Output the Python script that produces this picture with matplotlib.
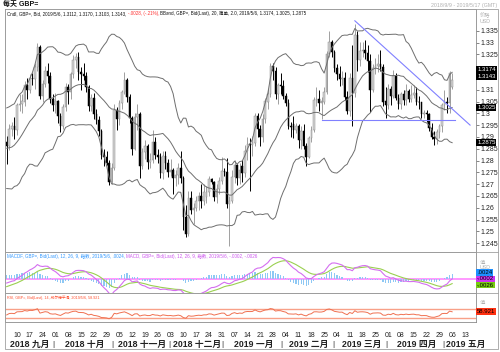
import numpy as np
import pandas as pd
import matplotlib
matplotlib.use('Agg')
import matplotlib.pyplot as plt
from matplotlib.lines import Line2D
from matplotlib.patches import Rectangle
from matplotlib.transforms import blended_transform_factory

plt.rcParams['font.family'] = ['Liberation Sans', 'Noto Sans CJK SC', 'DejaVu Sans']

# ---------------- data (daily GBP=, from 2018-09-04) ----------------
start_date = '2018-09-04'
opens = [1.2880, 1.2860, 1.2935, 1.2945, 1.2930, 1.3035, 1.3040, 1.3050, 1.3120, 1.3100,
         1.3150, 1.3145, 1.3195, 1.3280, 1.3075, 1.3125, 1.3180, 1.3160, 1.3060, 1.3035,
         1.3050, 1.2990, 1.2945, 1.3025, 1.3110, 1.3090, 1.3165, 1.3225, 1.3240, 1.3175,
         1.3165, 1.3160, 1.3110, 1.3030, 1.3065, 1.2995, 1.2970, 1.2925, 1.2825, 1.2815,
         1.2790, 1.2710, 1.2770, 1.3015, 1.2975, 1.3045, 1.3090, 1.3140, 1.3070, 1.2980,
         1.2850, 1.2985, 1.2995, 1.2775, 1.2835, 1.2860, 1.2795, 1.2800, 1.2880, 1.2825,
         1.2815, 1.2745, 1.2820, 1.2790, 1.2750, 1.2760, 1.2725, 1.2740, 1.2770, 1.2725,
         1.2560, 1.2490, 1.2640, 1.2590, 1.2600, 1.2630, 1.2650, 1.2630, 1.2645, 1.2665,
         1.2720, 1.2710, 1.2645, 1.2680, 1.2715, 1.2755, 1.2750, 1.2615, 1.2630, 1.2730,
         1.2780, 1.2725, 1.2775, 1.2745, 1.2840, 1.2870, 1.2865, 1.2875, 1.2990, 1.2935,
         1.2900, 1.2975, 1.3050, 1.3080, 1.3200, 1.3180, 1.3080, 1.3120, 1.3115, 1.3075,
         1.3045, 1.2945, 1.2955, 1.2930, 1.2945, 1.2885, 1.2925, 1.2860, 1.2815, 1.2895,
         1.2930, 1.3055, 1.3060, 1.3045, 1.3050, 1.3090, 1.3250, 1.3300, 1.3260, 1.3190,
         1.3165, 1.3145, 1.3150, 1.3070, 1.3010, 1.3150, 1.3085, 1.3330, 1.3225, 1.3265,
         1.3270, 1.3255, 1.3220, 1.3100, 1.3190, 1.3200, 1.3210, 1.3195, 1.3050, 1.3035,
         1.3105, 1.3075, 1.3160, 1.3065, 1.3040, 1.3083, 1.3057, 1.3093, 1.3060, 1.3078,
         1.3084, 1.3048, 1.3046, 1.2995, 1.3000, 1.2995, 1.2937, 1.2900, 1.2893, 1.2919,
         1.2945, 1.3036, 1.3048, 1.3043, 1.3112]
highs = [1.2905, 1.2955, 1.2962, 1.2985, 1.3045, 1.3082, 1.3080, 1.3135, 1.3150, 1.3165,
         1.3170, 1.3215, 1.3298, 1.3290, 1.3140, 1.3200, 1.3215, 1.3175, 1.3080, 1.3085,
         1.3055, 1.3000, 1.3040, 1.3130, 1.3125, 1.3175, 1.3245, 1.3255, 1.3258, 1.3195,
         1.3215, 1.3175, 1.3120, 1.3080, 1.3085, 1.3020, 1.2990, 1.2935, 1.2850, 1.2840,
         1.2800, 1.2790, 1.3040, 1.3025, 1.3055, 1.3100, 1.3175, 1.3150, 1.3080, 1.2990,
         1.3000, 1.3040, 1.3005, 1.2855, 1.2885, 1.2870, 1.2830, 1.2930, 1.2900, 1.2850,
         1.2830, 1.2840, 1.2840, 1.2805, 1.2805, 1.2770, 1.2760, 1.2790, 1.2840, 1.2735,
         1.2610, 1.2670, 1.2670, 1.2620, 1.2650, 1.2665, 1.2700, 1.2700, 1.2690, 1.2735,
         1.2725, 1.2715, 1.2700, 1.2730, 1.2815, 1.2770, 1.2810, 1.2650, 1.2760, 1.2800,
         1.2785, 1.2790, 1.2800, 1.2865, 1.2900, 1.2895, 1.2905, 1.3000, 1.3000, 1.2950,
         1.2995, 1.3065, 1.3105, 1.3215, 1.3215, 1.3195, 1.3130, 1.3170, 1.3140, 1.3085,
         1.3060, 1.2965, 1.2990, 1.2960, 1.2955, 1.2945, 1.2955, 1.2875, 1.2905, 1.2945,
         1.3070, 1.3110, 1.3100, 1.3070, 1.3110, 1.3265, 1.3350, 1.3310, 1.3270, 1.3210,
         1.3200, 1.3180, 1.3175, 1.3095, 1.3170, 1.3290, 1.3380, 1.3350, 1.3300, 1.3300,
         1.3310, 1.3290, 1.3250, 1.3210, 1.3235, 1.3250, 1.3270, 1.3210, 1.3110, 1.3125,
         1.3115, 1.3185, 1.3170, 1.3080, 1.3090, 1.3100, 1.3125, 1.3105, 1.3120, 1.3120,
         1.3110, 1.3075, 1.3050, 1.3015, 1.3015, 1.3000, 1.2960, 1.2925, 1.2935, 1.2955,
         1.3045, 1.3100, 1.3070, 1.3180, 1.3170]
lows = [1.2786, 1.2845, 1.2905, 1.2890, 1.2910, 1.3010, 1.3002, 1.3030, 1.3060, 1.3085,
        1.3120, 1.3105, 1.3180, 1.3060, 1.3050, 1.3110, 1.3130, 1.3045, 1.3010, 1.3000,
        1.2960, 1.2922, 1.2935, 1.3010, 1.3040, 1.3060, 1.3150, 1.3190, 1.3140, 1.3100,
        1.3140, 1.3090, 1.3010, 1.3010, 1.2975, 1.2955, 1.2905, 1.2805, 1.2775, 1.2780,
        1.2696, 1.2700, 1.2760, 1.2930, 1.2950, 1.3020, 1.3080, 1.3050, 1.2960, 1.2825,
        1.2845, 1.2930, 1.2725, 1.2765, 1.2805, 1.2765, 1.2770, 1.2790, 1.2805, 1.2790,
        1.2725, 1.2720, 1.2765, 1.2730, 1.2735, 1.2660, 1.2690, 1.2700, 1.2705, 1.2505,
        1.2475, 1.2480, 1.2575, 1.2530, 1.2585, 1.2590, 1.2600, 1.2610, 1.2620, 1.2650,
        1.2700, 1.2630, 1.2620, 1.2660, 1.2700, 1.2735, 1.2600, 1.2437, 1.2620, 1.2705,
        1.2695, 1.2700, 1.2710, 1.2730, 1.2800, 1.2670, 1.2820, 1.2860, 1.2900, 1.2860,
        1.2880, 1.2960, 1.3020, 1.3070, 1.3140, 1.3060, 1.3040, 1.3080, 1.3060, 1.3030,
        1.2935, 1.2900, 1.2895, 1.2915, 1.2855, 1.2850, 1.2850, 1.2775, 1.2810, 1.2880,
        1.2920, 1.3030, 1.3010, 1.2975, 1.3040, 1.3080, 1.3240, 1.3240, 1.3175, 1.3140,
        1.3115, 1.3120, 1.3055, 1.2995, 1.2990, 1.2945, 1.3070, 1.3180, 1.3200, 1.3240,
        1.3230, 1.3175, 1.3005, 1.3090, 1.3165, 1.3175, 1.3180, 1.3030, 1.2980, 1.3020,
        1.3035, 1.3065, 1.3055, 1.3020, 1.3020, 1.3035, 1.3035, 1.3050, 1.3050, 1.3065,
        1.3035, 1.3020, 1.2980, 1.2980, 1.2965, 1.2925, 1.2890, 1.2866, 1.2870, 1.2895,
        1.2920, 1.3015, 1.3000, 1.3000, 1.3103]
closes = [1.2860, 1.2935, 1.2945, 1.2930, 1.3035, 1.3040, 1.3050, 1.3120, 1.3100, 1.3150,
          1.3145, 1.3195, 1.3280, 1.3075, 1.3125, 1.3180, 1.3160, 1.3060, 1.3035, 1.3050,
          1.2990, 1.2945, 1.3025, 1.3110, 1.3090, 1.3165, 1.3225, 1.3240, 1.3175, 1.3165,
          1.3160, 1.3110, 1.3030, 1.3065, 1.2995, 1.2970, 1.2925, 1.2825, 1.2815, 1.2790,
          1.2710, 1.2770, 1.3015, 1.2975, 1.3045, 1.3090, 1.3140, 1.3070, 1.2980, 1.2850,
          1.2985, 1.2995, 1.2775, 1.2835, 1.2860, 1.2795, 1.2800, 1.2880, 1.2825, 1.2815,
          1.2745, 1.2820, 1.2790, 1.2750, 1.2760, 1.2725, 1.2740, 1.2770, 1.2725, 1.2560,
          1.2490, 1.2640, 1.2590, 1.2600, 1.2630, 1.2650, 1.2630, 1.2665, 1.2665, 1.2720,
          1.2710, 1.2645, 1.2680, 1.2715, 1.2755, 1.2750, 1.2615, 1.2630, 1.2730, 1.2780,
          1.2725, 1.2760, 1.2745, 1.2840, 1.2870, 1.2865, 1.2875, 1.2990, 1.2935, 1.2900,
          1.2975, 1.3050, 1.3080, 1.3200, 1.3180, 1.3080, 1.3120, 1.3115, 1.3075, 1.3045,
          1.2945, 1.2940, 1.2930, 1.2945, 1.2885, 1.2925, 1.2860, 1.2815, 1.2895, 1.2930,
          1.3055, 1.3060, 1.3045, 1.3050, 1.3090, 1.3250, 1.3300, 1.3260, 1.3190, 1.3165,
          1.3145, 1.3150, 1.3070, 1.3010, 1.3150, 1.3085, 1.3330, 1.3225, 1.3265, 1.3270,
          1.3255, 1.3220, 1.3100, 1.3190, 1.3200, 1.3210, 1.3195, 1.3050, 1.3035, 1.3105,
          1.3075, 1.3160, 1.3065, 1.3040, 1.3083, 1.3057, 1.3093, 1.3060, 1.3078, 1.3084,
          1.3048, 1.3046, 1.2995, 1.3000, 1.2995, 1.2937, 1.2900, 1.2893, 1.2919, 1.2945,
          1.3036, 1.3048, 1.3043, 1.3171, 1.3143]
# closes before the visible range (2018-07-02 .. 2018-09-03), only used to seed the indicators
warmup_closes = [1.3155, 1.3170, 1.3215, 1.3225, 1.3282, 1.3265, 1.3245, 1.3205, 1.3195, 1.3230,
                 1.3250, 1.3095, 1.3035, 1.2990, 1.3135, 1.3125, 1.3160, 1.3195, 1.3120, 1.3115,
                 1.3125, 1.3125, 1.3115, 1.3005, 1.2995, 1.2940, 1.2920, 1.2895, 1.2885, 1.2765,
                 1.2775, 1.2750, 1.2710, 1.2740, 1.2735, 1.2785, 1.2900, 1.2925, 1.2840, 1.2880,
                 1.2890, 1.2855, 1.2985, 1.2990, 1.2995, 1.2880]
# drawn trend lines: (day index, price)
trend_down = [(136, 1.3392), (181, 1.2950)]
trend_flat = [(123, 1.2972), (175, 1.2972)]
month_names = ['2018 九月', '2018 十月', '2018 十一月', '2018 十二月', '2019 一月',
               '2019 二月', '2019 三月', '2019 四月', '2019 五月']

# ---------------- indicators ----------------
n = len(closes)
nw = len(warmup_closes)
allc = pd.Series(warmup_closes + closes)
mid = allc.rolling(20).mean()
sd = allc.rolling(20).std(ddof=0)
upper = (mid + 2 * sd).values[nw:]
lower = (mid - 2 * sd).values[nw:]
mid = mid.values[nw:]
ema12 = allc.ewm(span=12, adjust=False).mean()
ema26 = allc.ewm(span=26, adjust=False).mean()
macd = ema12 - ema26
sig = macd.ewm(span=9, adjust=False).mean()
hist = (macd - sig).values[nw:]
macd = macd.values[nw:]
sig = sig.values[nw:]
d = allc.diff()
gain = d.clip(lower=0).ewm(alpha=1/14, adjust=False).mean()
loss = (-d.clip(upper=0)).ewm(alpha=1/14, adjust=False).mean()
rsi = (100 - 100 / (1 + gain / loss)).values[nw:]

o = np.array(opens); h = np.array(highs); l = np.array(lows); c = np.array(closes)
x = np.arange(n)
dates = pd.bdate_range(start_date, periods=n + 10)

# ---------------- figure ----------------
W, H = 500, 352
fig = plt.figure(figsize=(W / 100, H / 100), dpi=100)


def rect(l_, t_, r_, b_):
    return [l_ / W, 1 - b_ / H, (r_ - l_) / W, (b_ - t_) / H]


def ftext(px, py, s, **kw):
    kw.setdefault('va', 'center')
    return fig.text(px / W, 1 - py / H, s, **kw)


XL = (5 - 6.7) / 2.56
XR = (476 - 6.7) / 2.56
PPU = 2360.0  # pixels per price unit in the main panel

ax = fig.add_axes(rect(5, 9, 476, 252))
axm = fig.add_axes(rect(5, 252, 476, 293), sharex=ax)
axr = fig.add_axes(rect(5, 293, 476, 322), sharex=ax)

# candles
up = c >= o
body_w = 0.6
ax.vlines(x[up], l[up], h[up], color='#a0a0a0', lw=0.7, zorder=2)
ax.vlines(x[~up], l[~up], h[~up], color='#000000', lw=0.7, zorder=2)
ax.bar(x[up], np.maximum((c - o)[up], 0.00015), bottom=o[up], width=body_w, color='#d4d4d4',
       edgecolor='#8c8c8c', linewidth=0.35, zorder=3)
ax.bar(x[~up], np.maximum((o - c)[~up], 0.00015), bottom=c[~up], width=body_w, color='#000000',
       edgecolor='#000000', linewidth=0.35, zorder=3)
# bollinger
for s in (upper, mid, lower):
    ax.plot(x, s, color='#6e6e6e', lw=0.7, zorder=4)
# trend lines
tl = '#8080ff'
ax.plot([p[0] for p in trend_down], [p[1] for p in trend_down], color=tl, lw=0.8, zorder=5)
ax.plot([p[0] for p in trend_flat], [p[1] for p in trend_flat], color=tl, lw=0.8, zorder=5)

ax.set_xlim(XL, XR)
ax.set_ylim(1.335 - (252 - 30.7) / PPU, 1.335 + (30.7 - 9) / PPU)
ax.yaxis.tick_right()

# right-side value boxes: (value, text, bg, fg, vertical offset in points)
box_specs = [(upper[-1], 2.0), (c[-1], 2.0), (mid[-1], 0.0), (lower[-1], 0.0)]
box_px = [(1.335 - v) * PPU - dy * 100 / 72 for v, dy in box_specs]

yt = np.arange(1.245, 1.3351, 0.005)
ax.set_yticks(yt)
labels = []
for v in yt:
    ypx = (1.335 - v) * PPU
    hidden = any(abs(ypx - b) < 5.5 for b in box_px)
    labels.append('' if hidden else ('%.3f' % v).rstrip('0').rstrip('.'))
ax.set_yticklabels(labels)
ax.tick_params(axis='y', length=2, width=0.5, color='#555555', labelsize=5, pad=1.5,
               labelcolor='#222222')
ax.tick_params(axis='x', bottom=False, labelbottom=False)

# MACD
axm.bar(x, hist, width=0.45, color='#8ec8f4', zorder=2)
axm.axhline(0, color='#ff88ff', lw=1.2, zorder=1)
axm.plot(x, sig, color='#9ad050', lw=0.8, zorder=3)
axm.plot(x, macd, color='#d46ef0', lw=0.8, zorder=4)
axm.set_ylim(-0.5 * 14.5 / 1000, 0.5 * 26.5 / 1000)
axm.set_yticks([])
axm.tick_params(axis='x', bottom=False, labelbottom=False)

# RSI
axr.plot(x, rsi, color='#f07050', lw=0.7, zorder=3)
axr.axhline(70, color='#f8a088', lw=1.0)
axr.axhline(30, color='#f8a088', lw=1.0)
axr.set_ylim(30 - 3.7 / 0.225, 70 + 16.3 / 0.225)
axr.set_yticks([])

for a in (ax, axm, axr):
    for sp in a.spines.values():
        sp.set_color('#8a8a8a')
        sp.set_linewidth(0.6)

# date ticks at Mondays
mondays = [i for i, dd in enumerate(dates) if dd.weekday() == 0 and XL < i < XR]
axr.set_xticks(mondays)
axr.set_xticklabels(['%02d' % dates[i].day for i in mondays])
axr.tick_params(axis='x', length=0, labelsize=5, pad=7, labelcolor='#222222')

# month labels
tr = blended_transform_factory(axr.transData, fig.transFigure)
mstarts = [i for i in range(1, len(dates)) if dates[i].month != dates[i - 1].month and i < XR]
bounds = [XL] + mstarts + [XR]
for k in range(len(bounds) - 1):
    if k == len(bounds) - 2:
        fig.text(bounds[k] + 0.6, 1 - 344 / H, month_names[k], transform=tr, ha='left',
                 va='center', fontsize=6.3, fontweight='bold', color='#222222')
    else:
        cx = (bounds[k] + bounds[k + 1]) / 2
        fig.text(cx, 1 - 344 / H, month_names[k], transform=tr, ha='center', va='center',
                 fontsize=6.3, fontweight='bold', color='#222222')
for i in mstarts:
    fig.text(i - 0.6, 1 - 344 / H, '|', transform=tr, ha='center', va='center',
             fontsize=6, color='#222222')

# outer frame and separators
fig.add_artist(Rectangle((5 / W, 1 - 349 / H), 493 / W, 340 / H, transform=fig.transFigure,
                         fill=False, edgecolor='#a0a0a0', lw=0.6))
for yy in (252, 293):
    fig.add_artist(Line2D([476 / W, 498 / W], [1 - yy / H] * 2, color='#a0a0a0', lw=0.6))

# titles
ftext(3, 4.5, '每天 GBP=', fontsize=5, fontweight='bold', color='#111111')
ftext(497, 5, '2018/9/9 - 2019/5/17 (GMT)', fontsize=3.8, color='#b0b0b0', ha='right')

fig.canvas.draw()
rend = fig.canvas.get_renderer()
hdr_font = ['Liberation Sans', 'Noto Sans CJK SC']


def seq_text(px, py, parts, target_w):
    size = 4.2
    probe = [ftext(0, -50, s, fontsize=size, family=hdr_font) for s, _ in parts]
    tot = sum(t.get_window_extent(renderer=rend).width for t in probe)
    for t in probe:
        t.remove()
    size = size * target_w / tot
    cur = px
    for s, col in parts:
        t = ftext(cur, py, s, fontsize=size, color=col, ha='left', family=hdr_font)
        cur += t.get_window_extent(renderer=rend).width


def f4(v):
    return ('%.4f' % v).replace('0.', '.')


seq_text(7, 13.5, [('Cndl, GBP=, Bid, 2019/5/6, %.4f, %.4f, %.4f, %.4f, ' % (o[-1], h[-1], l[-1], c[-1]), '#111111'),
                   ('-.0028, (-.21%), ', '#ff3030'),
                   ('BBand, GBP=, Bid(Last), 20, 简单, 2.0, 2019/5/6, %.4f, %.4f, %.4f' % (upper[-1], mid[-1], lower[-1]), '#111111')],
         300)
seq_text(7, 256.5, [('MACDF, GBP=, Bid(Last), 12, 26, 9, 指数, 2019/5/6, %s, ' % f4(hist[-1]), '#3399ff'),
                    ('MACD, GBP=, Bid(Last), 12, 26, 9, 指数, 2019/5/6, %s, %s' % (f4(macd[-1]), f4(sig[-1])), '#cc55ee')],
         250)
seq_text(7, 297.5, [('RSI, GBP=, Bid(Last), 14, 威尔德平滑, 2019/5/6, %.3f' % rsi[-1], '#ff5030')], 95)


def vbox(a, val, txt, bg, fg, dy=0.0):
    a.annotate(txt, xy=(1.0, val), xycoords=a.get_yaxis_transform(), xytext=(0.8, dy),
               textcoords='offset points', ha='left', va='center', fontsize=4.3, color=fg,
               zorder=10, annotation_clip=False,
               bbox=dict(boxstyle='square,pad=0.15', facecolor=bg, edgecolor='none'))


for v, dy in box_specs:
    vbox(ax, v, '%.4f' % v, '#000000', '#ffffff', dy)
vbox(axm, hist[-1], f4(hist[-1]), '#1e90ff', '#000000', 1)
vbox(axm, macd[-1], f4(macd[-1]), '#cc33ee', '#000000')
vbox(axm, sig[-1], f4(sig[-1]), '#77cc11', '#000000', -1)
vbox(axr, rsi[-1], '%.3f' % rsi[-1], '#ff3010', '#000000')

# unit labels
ftext(480, 15, '价格', fontsize=3.8, color='#b0b0b0', ha='left')
ftext(480, 21.5, 'USD', fontsize=3.8, color='#b0b0b0', ha='left')
ftext(480, 262, '值', fontsize=3.8, color='#b0b0b0', ha='left')
ftext(480, 267.5, 'USD', fontsize=3.8, color='#b0b0b0', ha='left')
ftext(480, 303, '值', fontsize=3.8, color='#b0b0b0', ha='left')

fig.savefig('out.png', dpi=100)
